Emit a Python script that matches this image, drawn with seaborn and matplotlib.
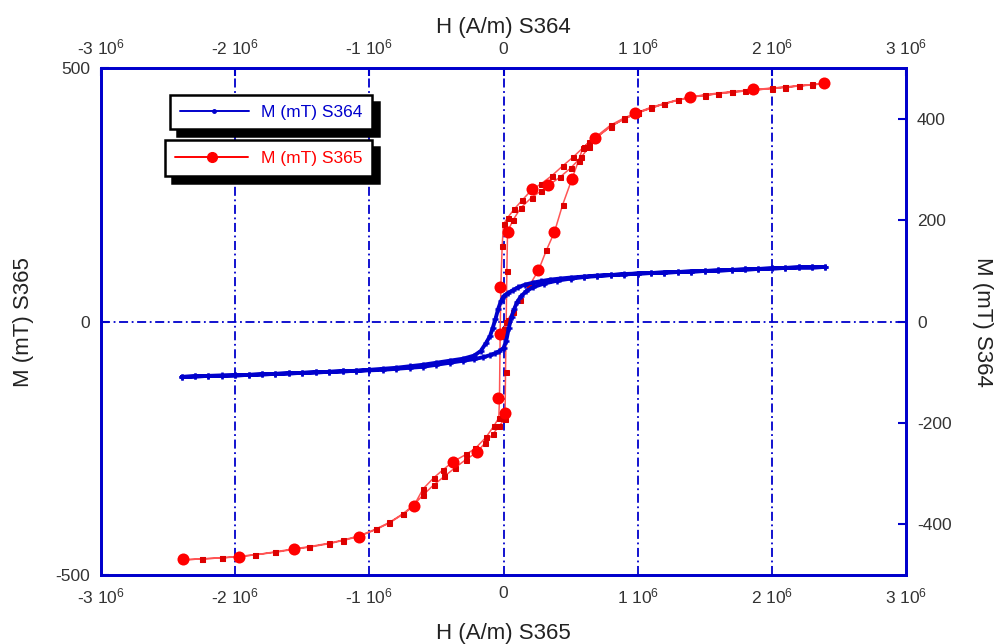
import numpy as np
import pandas as pd
import seaborn as sns
import matplotlib.pyplot as plt
from matplotlib.ticker import FuncFormatter
from matplotlib.lines import Line2D

# S364 : H en 1e6 A/m, M en mT (branche descendante puis montante)
S364_H_down = [2.4, 2.3, 2.2, 2.1, 2.0, 1.9, 1.8, 1.7, 1.6, 1.5, 1.4, 1.3, 1.2, 1.1, 1.0, 0.9, 0.8, 0.7, 0.6, 0.5,
               0.42, 0.35, 0.28, 0.22, 0.16, 0.11, 0.07, 0.03, 0.0,
               -0.02, -0.04, -0.06, -0.08, -0.1, -0.13, -0.17, -0.22, -0.3,
               -0.4, -0.5, -0.6, -0.7, -0.8, -0.9, -1.0, -1.1, -1.2, -1.3, -1.4, -1.5, -1.6, -1.7, -1.8, -1.9,
               -2.0, -2.1, -2.2, -2.3, -2.4]
S364_M_down = [108, 107, 107, 106, 105, 104, 103, 102, 101, 100, 99, 98, 97, 96, 95, 94, 92, 91, 89, 87,
               85, 83, 80, 77, 73, 68, 62, 56, 50,
               40, 25, 5, -12, -28, -42, -58, -67, -73,
               -77, -81, -85, -88, -91, -93, -95, -97, -98, -99, -100, -101, -102, -103, -104, -105,
               -106, -106, -107, -108, -109]
S364_H_up = [-2.4, -2.3, -2.2, -2.1, -2.0, -1.9, -1.8, -1.7, -1.6, -1.5, -1.4, -1.3, -1.2, -1.1, -1.0, -0.9,
             -0.8, -0.7, -0.6, -0.5,
             -0.4, -0.3, -0.22, -0.15, -0.1, -0.06, -0.03, 0.0, 0.02, 0.04, 0.06, 0.08, 0.1, 0.13, 0.17, 0.22, 0.3,
             0.4, 0.5, 0.6, 0.7, 0.8, 0.9, 1.0, 1.1, 1.2, 1.3, 1.4, 1.5, 1.6, 1.7, 1.8, 1.9, 2.0, 2.1, 2.2, 2.3, 2.4]
S364_M_up = [-109, -108, -107, -107, -106, -105, -104, -103, -102, -101, -100, -99, -98, -97, -96, -95,
             -93, -91, -89, -85,
             -81, -77, -74, -70, -66, -62, -58, -52, -38, -12, 10, 25, 38, 50, 60, 68, 75,
             81, 85, 88, 90, 92, 93, 95, 96, 97, 98, 99, 100, 101, 102, 103, 104, 105, 106, 107, 107, 108]

# S365 : courbe de premiere aimantation, branche descendante, branche montante
S365_H = [0.0, 0.03, 0.07, 0.12, 0.19, 0.26, 0.32, 0.38, 0.44, 0.51, 0.56, 0.59, 0.64, 0.69,
          0.8, 0.9, 1.0, 1.1, 1.2, 1.3, 1.39, 1.5, 1.6, 1.7, 1.8, 1.87, 2.0, 2.1, 2.2, 2.3, 2.4,
          2.3, 2.2, 2.1, 2.0, 1.87, 1.7, 1.5, 1.3, 1.1, 1.0, 0.9, 0.8,
          0.69, 0.6, 0.52, 0.44, 0.36, 0.28, 0.21, 0.14, 0.08, 0.03, 0.0,
          -0.01, -0.02, -0.025, -0.03, -0.035,
          -0.07, -0.13, -0.21, -0.28, -0.375, -0.45, -0.52, -0.6, -0.67,
          -0.75, -0.85, -0.95, -1.08, -1.2, -1.3, -1.45, -1.56, -1.7, -1.85, -1.98, -2.1, -2.25, -2.39,
          -2.25, -2.1, -1.98, -1.85, -1.7, -1.56, -1.45, -1.3, -1.2, -1.08, -0.95, -0.85, -0.75,
          -0.67, -0.6, -0.52, -0.44, -0.36, -0.28, -0.2, -0.14, -0.08, -0.03, 0.01,
          0.012, 0.015, 0.02, 0.025, 0.03,
          0.07, 0.13, 0.21, 0.28, 0.33, 0.42, 0.5, 0.58, 0.64, 0.69,
          0.8, 0.9, 1.0, 1.2, 1.39, 1.6, 1.87, 2.1, 2.4]
S365_M = [-15, 3, 20, 42, 70, 101, 141, 177, 230, 281, 318, 342, 355, 363,
          385, 400, 412, 422, 430, 437, 443, 446, 450, 453, 455, 457, 460, 462, 465, 467, 470,
          468, 465, 463, 461, 458, 454, 448, 438, 423, 413, 402, 388,
          365, 345, 325, 307, 288, 272, 260, 240, 222, 205, 192,
          150, 68, -25, -151, -190,
          -205, -228, -250, -262, -276, -292, -308, -330, -364,
          -380, -397, -410, -424, -432, -438, -445, -449, -455, -460, -464, -466, -468, -470,
          -468, -466, -463, -460, -454, -448, -444, -437, -431, -423, -409, -396, -379,
          -362, -342, -322, -305, -288, -272, -258, -240, -222, -205, -192,
          -180, -100, 0, 100, 177,
          200, 225, 245, 258, 268, 285, 303, 325, 345, 363,
          386, 400, 412, 430, 443, 450, 457, 463, 470]
# points marques par un gros rond
S365_big_H = [2.39, 1.86, 1.39, 0.98, 0.68, 0.51, 0.38, 0.26, -0.025, -0.026, 0.03, 0.21, 0.33,
              -0.04, 0.01, -0.2, -0.375, -0.67, -1.08, -1.56, -1.97, -2.39]
S365_big_M = [471, 459, 443, 411, 363, 281, 177, 101, 68, -25, 177, 262, 270,
              -151, -180, -258, -276, -364, -424, -449, -464, -469]

BLUE = '#0000cc'
RED = '#ff0000'

sns.set_style('white')
plt.rcParams['font.family'] = ['Liberation Sans', 'DejaVu Sans']
plt.rcParams['mathtext.default'] = 'regular'
plt.rcParams['axes.unicode_minus'] = False

df364 = pd.DataFrame({'H': np.array(S364_H_down + S364_H_up) * 1e6,
                      'M': S364_M_down + S364_M_up})
df365 = pd.DataFrame({'H': np.array(S365_H) * 1e6, 'M': S365_M})
df365_big = pd.DataFrame({'H': np.array(S365_big_H) * 1e6, 'M': S365_big_M})

fig = plt.figure(figsize=(10.01, 6.44), dpi=100)
ax = fig.add_axes([0.101, 0.107, 0.804, 0.787])
ax_r = ax.twinx()
ax_t = ax_r.twiny()


def fmt_h(v, pos):
    if abs(v) < 1:
        return '0'
    return '%d 10$^{6}$' % round(v / 1e6)


# grille pointillee bleue
for xv in [-2e6, -1e6, 0, 1e6, 2e6]:
    ax.axvline(xv, color=BLUE, lw=1.3, ls=(0, (5, 2, 1, 2)), zorder=0)
ax.axhline(0, color=BLUE, lw=1.3, ls=(0, (5, 2, 1, 2)), zorder=0)

# S365 sur axes gauche / bas
sns.lineplot(data=df365, x='H', y='M', sort=False, estimator=None, ax=ax,
             color='#ff5555', lw=1.1, linestyle='-', marker='s', markersize=3.6,
             markerfacecolor='#dd0000', markeredgecolor='#dd0000', zorder=3)
sns.scatterplot(data=df365_big, x='H', y='M', ax=ax, color=RED, s=75,
                edgecolor=RED, linewidth=0, zorder=4)

# S364 sur axes droite / haut
sns.lineplot(data=df364, x='H', y='M', sort=False, estimator=None, ax=ax_t,
             color=BLUE, lw=2.8, linestyle='-', marker='+', markersize=4.5, mew=1.8,
             markeredgecolor=BLUE, zorder=3)

ax.set_xlim(-3e6, 3e6)
ax.set_ylim(-500, 500)
ax_t.set_xlim(-3e6, 3e6)
ax_r.set_ylim(-500, 500)

ax.set_xticks(np.arange(-3e6, 3.1e6, 1e6))
ax_t.set_xticks(np.arange(-3e6, 3.1e6, 1e6))
ax.set_yticks([-500, 0, 500])
ax_r.set_yticks([-400, -200, 0, 200, 400])
ax.xaxis.set_major_formatter(FuncFormatter(fmt_h))
ax_t.xaxis.set_major_formatter(FuncFormatter(fmt_h))

for a in (ax, ax_r, ax_t):
    a.tick_params(direction='in', length=6, width=1.5, color=BLUE,
                  labelsize=12.5, labelcolor='#333333', pad=8)
    for s in a.spines.values():
        s.set_color(BLUE)
        s.set_linewidth(1.8)

ax.set_xlabel('H (A/m) S365', fontsize=16, color='#222222', labelpad=12)
ax_t.set_xlabel('H (A/m) S364', fontsize=16, color='#222222', labelpad=3)
ax.set_ylabel('M (mT) S365', fontsize=16, color='#222222', labelpad=15)
ax_r.set_ylabel('M (mT) S364', fontsize=16, color='#222222', labelpad=30, rotation=270)

# legendes : deux boites separees avec ombre noire
h364 = Line2D([], [], color=BLUE, lw=1.4, marker='.', markersize=5)
h365 = Line2D([], [], color=RED, lw=1.4, marker='o', markersize=7)
shadow = {'color': 'black', 'ox': 5, 'oy': -5, 'alpha': 1}
leg1 = ax_t.legend(handles=[h364], labels=['M (mT) S364'], loc='upper left',
                   bbox_to_anchor=(0.0857, 0.947), fancybox=False, shadow=shadow,
                   framealpha=1, edgecolor='black', fontsize=12.5, handlelength=4.0,
                   borderpad=0.55, borderaxespad=0, handletextpad=0.7)
leg1.get_frame().set_linewidth(1.8)
leg1.get_texts()[0].set_color(BLUE)
ax_t.add_artist(leg1)
leg2 = ax_t.legend(handles=[h365], labels=['M (mT) S365'], loc='upper left',
                   bbox_to_anchor=(0.0795, 0.858), fancybox=False, shadow=shadow,
                   framealpha=1, edgecolor='black', fontsize=12.5, handlelength=4.2,
                   borderpad=0.6, borderaxespad=0, handletextpad=0.7)
leg2.get_frame().set_linewidth(1.8)
leg2.get_texts()[0].set_color(RED)

fig.savefig('out.png', dpi=100)
